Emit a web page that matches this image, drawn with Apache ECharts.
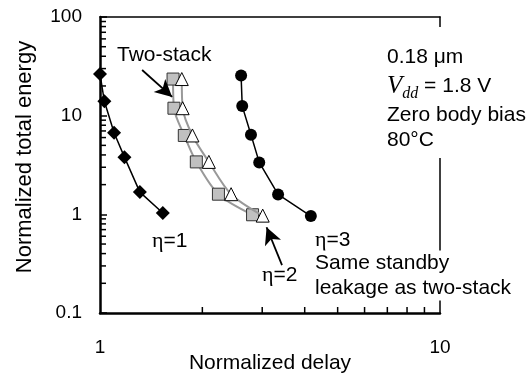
<!DOCTYPE html>
<html>
<head>
<meta charset="utf-8">
<script src="https://cdn.jsdelivr.net/npm/echarts@6/dist/echarts.min.js"></script>
<style>
html,body{margin:0;padding:0;background:#fff;}
#c{width:532px;height:375px;}
</style>
</head>
<body>
<div id="c"></div>
<script>
// ---- data ----
const delayEta1 = [1.00, 1.03, 1.10, 1.18, 1.31, 1.53];
const energyEta1 = [26.4, 14.0, 6.7, 3.8, 1.68, 1.03];

const delayTwoStack = [1.64, 1.65, 1.77, 1.92, 2.23, 2.81];
const energyTwoStack = [23.5, 11.9, 6.3, 3.4, 1.60, 0.99];

const delayEta2 = [1.74, 1.75, 1.87, 2.09, 2.43, 3.01];
const energyEta2 = [23.5, 11.9, 6.3, 3.4, 1.60, 0.97];

const delayEta3 = [2.60, 2.62, 2.78, 2.94, 3.34, 4.17];
const energyEta3 = [25.5, 12.5, 6.4, 3.36, 1.59, 0.96];

const minorTicksX = [2, 3, 4, 5, 6, 7, 8, 9];
const minorTicksY = [0.2, 0.3, 0.4, 0.5, 0.6, 0.7, 0.8, 0.9,
                     2, 3, 4, 5, 6, 7, 8, 9,
                     20, 30, 40, 50, 60, 70, 80, 90];

// annotation arrows in data space: [from, to]
const arrowTwoStack = [[1.33, 29.0], [1.63, 15.5]];
const arrowEta2 = [[3.43, 0.306], [3.09, 0.74]];

const FONT = "'Liberation Sans', Arial, sans-serif";
const SERIF = "'Liberation Serif', 'Times New Roman', serif";

function pairs(xs, ys) { return xs.map((x, i) => [x, ys[i]]); }

const chart = echarts.init(document.getElementById('c'), null, {renderer: 'canvas'});

const option = {
  animation: false,
  backgroundColor: '#fff',
  grid: {left: 100, right: 92, top: 17, bottom: 62, containLabel: false, outerBoundsMode: 'none'},
  xAxis: [
    {
      type: 'log', logBase: 10, min: 1, max: 10, position: 'bottom',
      axisLine: {onZero: false, lineStyle: {color: '#000', width: 2.5}},
      axisTick: {show: false},
      axisLabel: {color: '#000', fontSize: 19, fontFamily: FONT, margin: 25, showMinLabel: true, showMaxLabel: true},
      splitLine: {show: false}
    },
    {
      type: 'log', logBase: 10, min: 1, max: 10, position: 'top',
      axisLine: {onZero: false, lineStyle: {color: '#000', width: 1.5}},
      axisTick: {show: false}, axisLabel: {show: false}, splitLine: {show: false}
    }
  ],
  yAxis: [
    {
      type: 'log', logBase: 10, min: 0.1, max: 100, position: 'left',
      axisLine: {onZero: false, lineStyle: {color: '#000', width: 2.5}},
      axisTick: {inside: true, length: 7, lineStyle: {color: '#000', width: 1.5}},
      axisLabel: {color: '#000', fontSize: 19, fontFamily: FONT, margin: 18, showMinLabel: true, showMaxLabel: true},
      splitLine: {show: false}
    },
    {
      type: 'log', logBase: 10, min: 0.1, max: 100, position: 'right',
      axisLine: {onZero: false, lineStyle: {color: '#000', width: 1.5}},
      axisTick: {show: false}, axisLabel: {show: false}, splitLine: {show: false}
    }
  ],
  series: [
    {
      type: 'custom', silent: true, clip: false, z: 6,
      data: minorTicksX.map(v => [v, 0.1]),
      renderItem: (params, api) => {
        const p = api.coord([api.value(0), api.value(1)]);
        return {type: 'line', shape: {x1: p[0], y1: p[1], x2: p[0], y2: p[1] - 6},
                style: {stroke: '#000', lineWidth: 1.5}};
      }
    },
    {
      type: 'custom', silent: true, clip: false, z: 6,
      data: minorTicksY.map(v => [1, v]),
      renderItem: (params, api) => {
        const p = api.coord([api.value(0), api.value(1)]);
        return {type: 'line', shape: {x1: p[0], y1: p[1], x2: p[0] + 6, y2: p[1]},
                style: {stroke: '#000', lineWidth: 1.5}};
      }
    },
    {
      name: 'Two-stack', type: 'line', data: pairs(delayTwoStack, energyTwoStack),
      smooth: 0.3, showSymbol: true, symbol: 'rect', symbolSize: 12, z: 3,
      lineStyle: {color: '#999', width: 2},
      itemStyle: {color: '#c0c0c0', borderColor: '#333', borderWidth: 1}
    },
    {
      name: 'eta=2', type: 'line', data: pairs(delayEta2, energyEta2),
      smooth: 0.3, showSymbol: true, symbol: 'triangle', symbolSize: 13, z: 4,
      lineStyle: {color: '#999', width: 2},
      itemStyle: {color: '#fff', borderColor: '#000', borderWidth: 1}
    },
    {
      name: 'eta=1', type: 'line', data: pairs(delayEta1, energyEta1),
      showSymbol: true, symbol: 'diamond', symbolSize: 14, z: 5,
      lineStyle: {color: '#000', width: 1.5},
      itemStyle: {color: '#000'},
      markLine: {
        silent: true, symbol: ['none', 'arrow'], symbolSize: [13, 17],
        label: {show: false},
        lineStyle: {color: '#000', width: 1.8, type: 'solid'},
        data: [
          [{coord: arrowTwoStack[0]}, {coord: arrowTwoStack[1]}],
          [{coord: arrowEta2[0]}, {coord: arrowEta2[1]}]
        ]
      }
    },
    {
      name: 'eta=3', type: 'line', data: pairs(delayEta3, energyEta3),
      showSymbol: true, symbol: 'circle', symbolSize: 12, z: 5,
      lineStyle: {color: '#000', width: 1.5},
      itemStyle: {color: '#000'}
    }
  ],
  graphic: [
    {
      type: 'text', x: 25, y: 157, rotation: Math.PI / 2, z: 10,
      style: {text: 'Normalized total energy', fill: '#000', fontSize: 22, fontFamily: FONT,
              align: 'center', verticalAlign: 'middle'}
    },
    {
      type: 'text', x: 270, y: 363, z: 10,
      style: {text: 'Normalized delay', fill: '#000', fontSize: 21, fontFamily: FONT,
              align: 'center', verticalAlign: 'middle'}
    },
    {
      type: 'text', x: 117, y: 55, z: 10,
      style: {text: 'Two-stack', fill: '#000', fontSize: 21, fontFamily: FONT,
              align: 'left', verticalAlign: 'middle'}
    },
    {
      type: 'text', x: 152, y: 241, z: 10,
      style: {text: '{e|η}{t|=1}', align: 'left', verticalAlign: 'middle', fill: '#000',
              rich: {e: {fontFamily: SERIF, fontSize: 22, fill: '#000'}, t: {fontFamily: FONT, fontSize: 21, fill: '#000'}}}
    },
    {
      type: 'text', x: 262, y: 275, z: 10,
      style: {text: '{e|η}{t|=2}', align: 'left', verticalAlign: 'middle', fill: '#000',
              rich: {e: {fontFamily: SERIF, fontSize: 22, fill: '#000'}, t: {fontFamily: FONT, fontSize: 21, fill: '#000'}}}
    },
    {
      type: 'text', x: 315, y: 240, z: 10,
      style: {text: '{e|η}{t|=3}', align: 'left', verticalAlign: 'middle', fill: '#000',
              rich: {e: {fontFamily: SERIF, fontSize: 22, fill: '#000'}, t: {fontFamily: FONT, fontSize: 21, fill: '#000'}}}
    },
    {
      type: 'text', x: 315, y: 250.5, z: 10,
      style: {text: 'Same standby\nleakage as two-stack', fill: '#000', fontSize: 21, fontFamily: FONT,
              lineHeight: 25, align: 'left', verticalAlign: 'top', backgroundColor: '#fff', padding: [0, 4, 0, 0]}
    },
    {
      type: 'text', x: 387, y: 27, z: 10,
      style: {
        text: '{a|0.18 μm}\n{v|V}{s|dd}{b| = 1.8 V}\n{c|Zero body bias}\n{d|80°C}',
        align: 'left', verticalAlign: 'top', backgroundColor: '#fff', padding: [16, 6, 6, 0], fill: '#000',
        rich: {
          a: {fontFamily: FONT, fontSize: 21, lineHeight: 28, fill: '#000'},
          v: {fontFamily: SERIF, fontStyle: 'italic', fontSize: 25, lineHeight: 31, fill: '#000'},
          s: {fontFamily: SERIF, fontStyle: 'italic', fontSize: 16, lineHeight: 17, verticalAlign: 'bottom', fill: '#000'},
          b: {fontFamily: FONT, fontSize: 21, lineHeight: 31, fill: '#000'},
          c: {fontFamily: FONT, fontSize: 21, lineHeight: 26, fill: '#000'},
          d: {fontFamily: FONT, fontSize: 21, lineHeight: 24, fill: '#000'}
        }
      }
    }
  ]
};

chart.setOption(option);
</script>
</body>
</html>
